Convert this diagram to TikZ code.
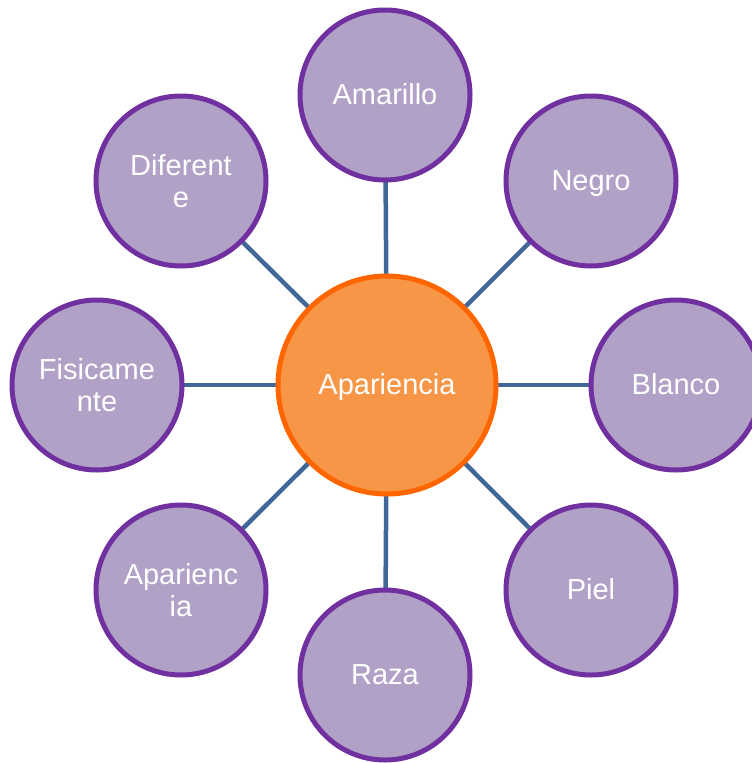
\documentclass[tikz,border=0pt]{standalone}
\usepackage{fontspec}
\setmainfont{Liberation Sans}
\usetikzlibrary{backgrounds}
\definecolor{pfill}{RGB}{177,161,199}
\definecolor{pline}{RGB}{112,48,160}
\definecolor{ofill}{RGB}{247,150,70}
\definecolor{oline}{RGB}{255,102,0}
\definecolor{conn}{RGB}{65,103,153}
\tikzset{
  outer/.style={circle, draw=pline, fill=pfill, line width=5pt, minimum size=170pt, inner sep=0pt,
    text=white, align=center, font=\fontsize{29}{32}\selectfont},
  oneline/.style={text height=22pt, text depth=4pt},
  hub/.style={circle, draw=oline, fill=ofill, line width=5pt, minimum size=218pt, inner sep=0pt,
    text=white, align=center, font=\fontsize{29}{32}\selectfont, text height=22pt, text depth=4pt},
  link/.style={draw=conn, line width=4.5pt}
}
\begin{document}
\begin{tikzpicture}[x=1pt,y=-1pt]
\useasboundingbox (0,0) rectangle (752,763);
\node[hub] (c) at (387,385) {Apariencia};
\node[outer,oneline] (am) at (385,95) {Amarillo};
\node[outer,oneline] (ne) at (591,181) {Negro};
\node[outer,oneline] (bl) at (676,385) {Blanco};
\node[outer,oneline] (pi) at (591,590) {Piel};
\node[outer,oneline] (ra) at (385,675) {Raza};
\node[outer] (ap) at (181,590) {Aparienc\\ia};
\node[outer] (fi) at (97,385) {Fisicame\\nte};
\node[outer] (di) at (181,181) {Diferent\\e};
\begin{scope}[on background layer]
\foreach \n in {am,ne,bl,pi,ra,ap,fi,di} \draw[link] (c.center) -- (\n.center);
\end{scope}
\end{tikzpicture}
\end{document}
